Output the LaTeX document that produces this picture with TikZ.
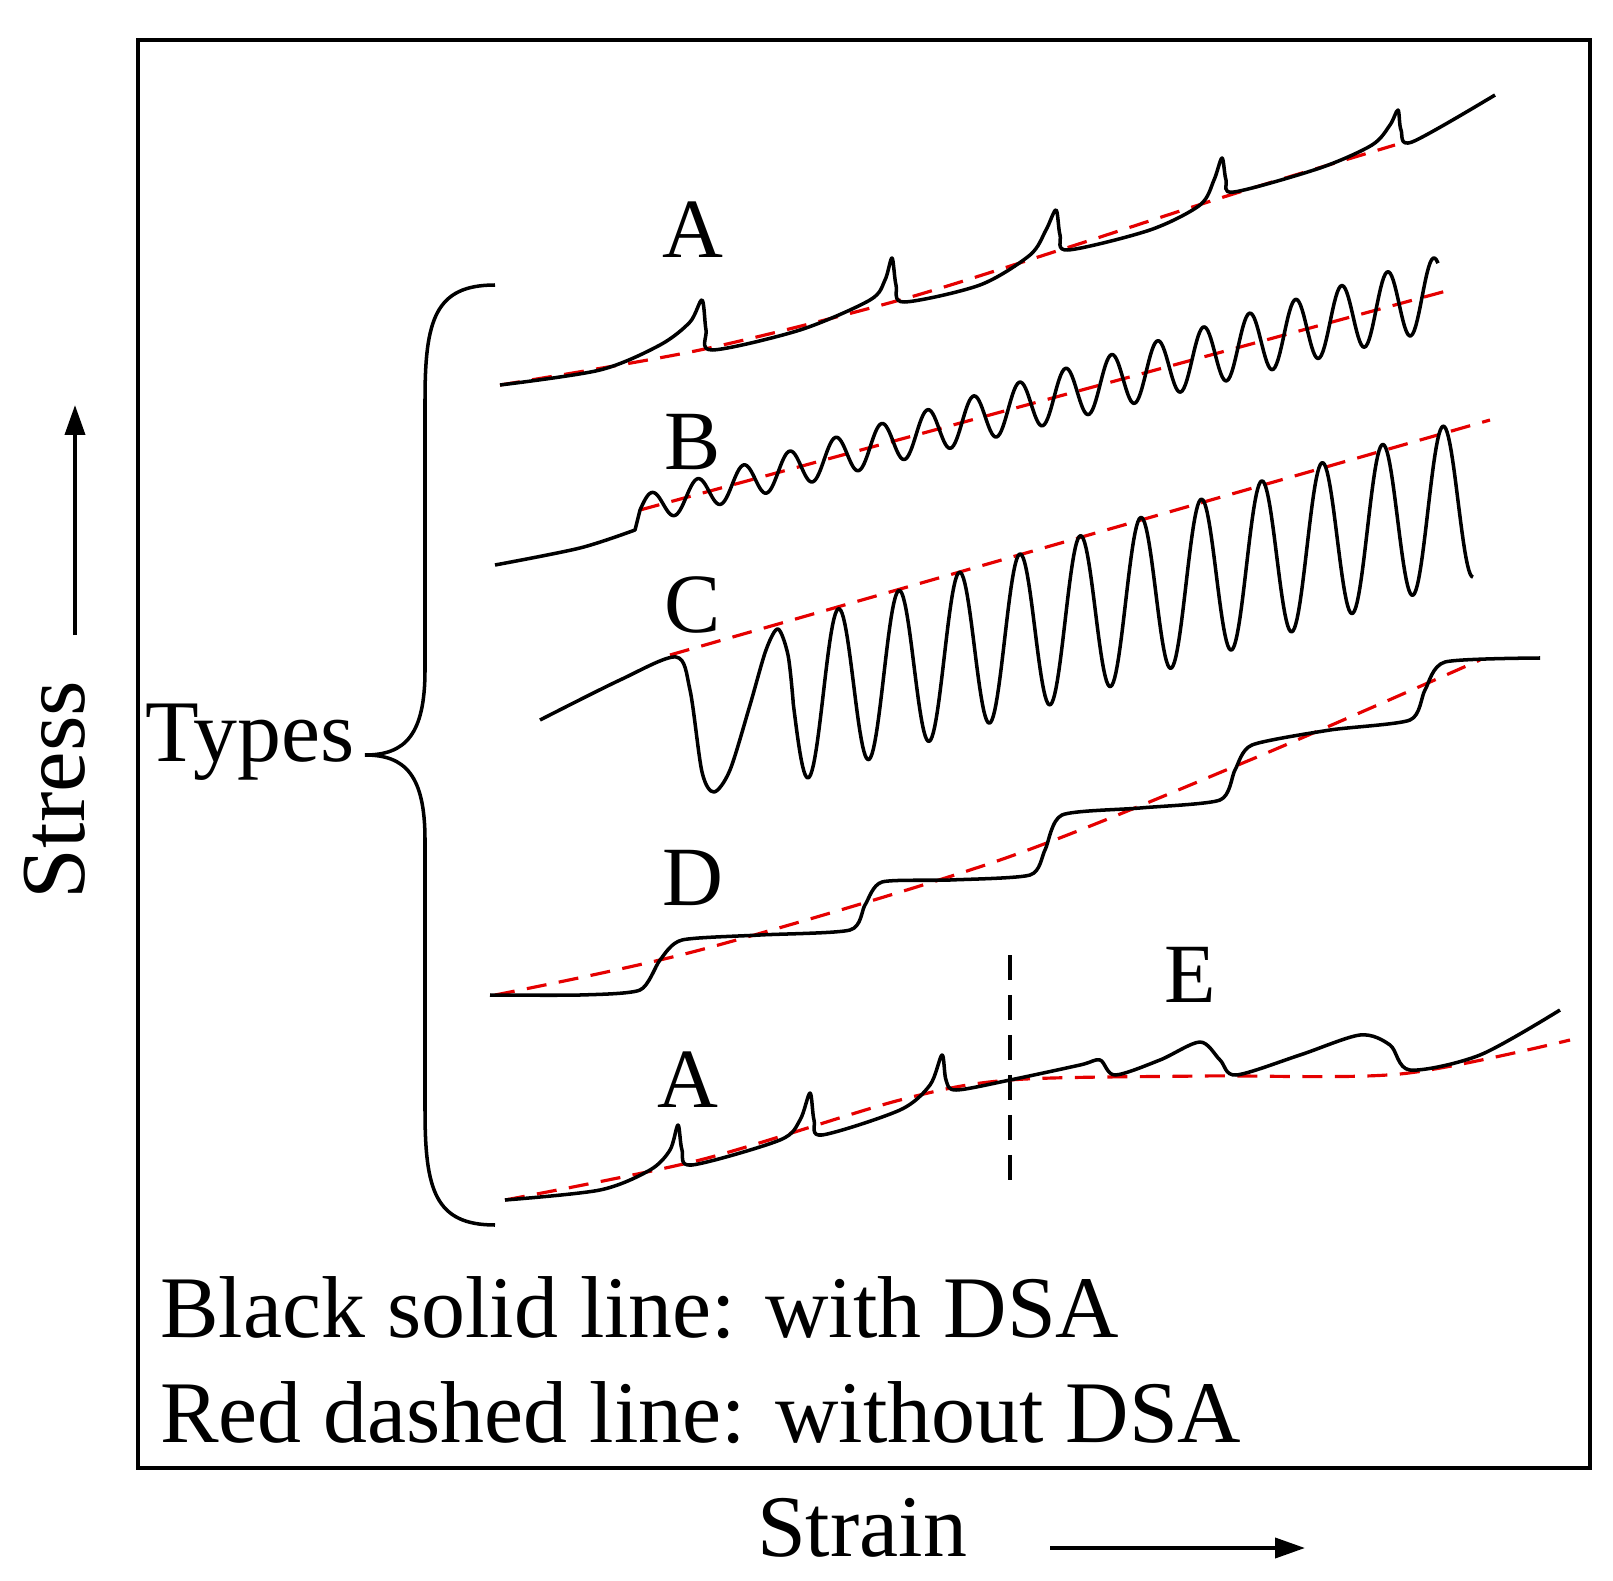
\documentclass[tikz,border=0pt]{standalone}
\usepackage{fontspec}
\setmainfont{Liberation Serif}
\usetikzlibrary{arrows.meta}

\begin{document}
\begin{tikzpicture}[
    x=0.02cm, y=-0.02cm,
    every node/.style={font=\fontsize{48}{52}\selectfont, inner sep=0pt},
    big/.style={font=\fontsize{50}{54}\selectfont},
    curve/.style={line width=2pt, black, line join=round},
    nodsa/.style={line width=1.8pt, red!90!black, dash pattern=on 0.4cm off 0.25cm},
    arrow/.style={-{Triangle[length=6mm, width=4mm]}, line width=2.2pt}
]
\useasboundingbox (0,0) rectangle (1613,1581);

% Frame and axes
\draw[line width=2.8pt] (138,40) rectangle (1590,1468);
\node[font=\fontsize{52}{56}\selectfont, rotate=90] (stress) at (55,790) {Stress};
\coordinate (s1) at (75,635);
\coordinate (s2) at (75,405);
\draw[arrow] (s1) -- (s2);
\node[big] (strain) at (862,1528) {Strain};
\coordinate (e1) at (1050,1548);
\coordinate (e2) at (1305,1548);
\draw[arrow] (e1) -- (e2);

% Brace
\draw[line width=2pt] (495,285) .. controls (435,285) and (425,320) .. (425,400) -- (425,670)
    .. controls (425,735) and (405,755) .. (365,755)
    .. controls (405,755) and (425,775) .. (425,840) -- (425,1110)
    .. controls (425,1190) and (435,1225) .. (495,1225);
\node[big] (types) at (250,742) {Types};

% Labels
\node (la) at (693,230) {A};
\node (lb) at (693,442) {B};
\node (lc) at (693,605) {C};
\node (ld) at (693,878) {D};
\node (la2) at (688,1080) {A};
\node (le) at (1190,975) {E};

% Type A
\draw[nodsa] plot[smooth] coordinates {(500,385) (700,350) (900,300) (1060,250) (1230,195) (1395,145)};
\draw[curve] plot[smooth, tension=0.5] coordinates {(500,385) (600,370) (660,345) (690,322) (702,300) (706,330) (712,350)
    (800,330) (870,300) (885,280) (892,258) (896,285) (904,302) (980,285) (1030,255) (1046,230) (1056,210) (1060,235) (1068,250)
    (1150,230) (1200,205) (1214,180) (1222,158) (1226,180) (1234,192) (1320,168) (1372,145) (1390,125) (1398,110) (1401,130) (1412,142) (1495,95)};

% Type B
\draw[nodsa] (640,510) -- (1450,290);
\draw[curve] plot[smooth] coordinates {(495,565) (580,548) (635,530)}
    -- plot[domain=0:798, samples=500] ({\x+640}, {510-0.272*\x-(14+0.028*\x)*sin(7.826*\x)});

% Type C
\draw[nodsa] (670,655) -- (1490,420);
\draw[curve] plot[smooth, tension=0.5] coordinates {(540,720) (620,680) (676,657) (690,690) (702,772) (714,792)
    (730,770) (750,705) (766,650) (778,629) (788,655) (793,700)}
    -- plot[domain=15:695, samples=500] ({\x+778}, {707-0.302*\x-80*cos(5.955*\x)});

% Type D
\draw[nodsa] plot[smooth] coordinates {(495,995) (700,950) (1000,860) (1250,760) (1480,660)};
\draw[curve] plot[smooth, tension=0.4] coordinates {(490,995) (580,995) (640,990) (660,960) (682,940) (760,935) (850,930)
    (865,905) (882,882) (950,880) (1030,875) (1045,850) (1062,815) (1140,808) (1220,800) (1235,770) (1252,745)
    (1330,730) (1410,720) (1425,690) (1445,662) (1540,658)};

% Type A + E
\coordinate (v1) at (1010,955);
\coordinate (v2) at (1010,1182);
\draw[line width=2pt, dash pattern=on 0.5cm off 0.3cm] (v1) -- (v2);
\draw[nodsa] plot[smooth] coordinates {(505,1200) (700,1160) (900,1100) (1010,1080) (1200,1076) (1400,1074) (1570,1040)};
\draw[curve] plot[smooth, tension=0.5] coordinates {(505,1200) (600,1190) (650,1170) (670,1150) (678,1125) (682,1150) (692,1165)
    (780,1140) (800,1120) (810,1093) (814,1120) (822,1135) (900,1110) (930,1085) (942,1055) (946,1080) (956,1090)
    (1010,1080) (1080,1065) (1100,1060) (1115,1075) (1160,1060) (1200,1042) (1220,1060) (1236,1075)
    (1300,1055) (1360,1035) (1390,1045) (1410,1070) (1480,1055) (1560,1010)};

% Legend
\node[big, anchor=west] (l1) at (160,1308) {Black solid line: with DSA};
\node[big, anchor=west] (l2) at (160,1413) {Red dashed line: without DSA};
\end{tikzpicture}
\end{document}
